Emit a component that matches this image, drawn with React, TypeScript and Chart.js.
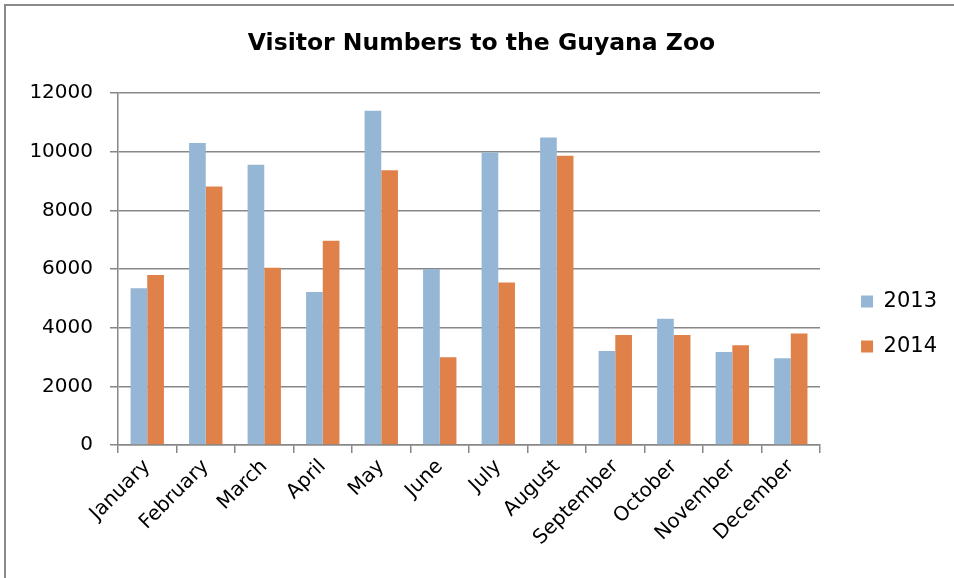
import React, { useEffect, useRef } from "react";
import { Chart, registerables } from "chart.js";

Chart.register(...registerables);

const months = [
  "January", "February", "March", "April", "May", "June",
  "July", "August", "September", "October", "November", "December",
];
const visitors2013 = [5350, 10300, 9560, 5220, 11400, 6000, 9980, 10490, 3210, 4310, 3170, 2960];
const visitors2014 = [5800, 8820, 6050, 6970, 9370, 2990, 5540, 9870, 3750, 3750, 3400, 3800];
const yTicks = [0, 2000, 4000, 6000, 8000, 10000, 12000];
const titleText = "Visitor Numbers to the Guyana Zoo";

const FONT = "'DejaVu Sans', sans-serif";
const GRID = "#878787";

export default function App() {
  const ref = useRef<HTMLCanvasElement | null>(null);

  useEffect(() => {
    if (!ref.current) return;
    const chart = new Chart(ref.current, {
      type: "bar",
      data: {
        labels: months,
        datasets: [
          { label: "2013", data: visitors2013, backgroundColor: "#95B6D4", borderWidth: 0 },
          { label: "2014", data: visitors2014, backgroundColor: "#DF8149", borderWidth: 0 },
        ],
      },
      options: {
        animation: false,
        responsive: true,
        maintainAspectRatio: false,
        layout: { padding: { left: 16, right: 7, top: 0, bottom: 0 } },
        datasets: { bar: { categoryPercentage: 0.57, barPercentage: 1 } },
        plugins: {
          tooltip: { enabled: false },
          title: {
            display: true,
            text: titleText,
            color: "#000",
            font: { family: FONT, size: 23.5, weight: "bold", lineHeight: 1.2 },
            padding: { top: 30, bottom: 35 },
          },
          legend: {
            position: "right",
            align: "center",
            title: {
              display: true,
              text: " ",
              font: { family: FONT, size: 10, lineHeight: 1 },
              padding: { top: 60, bottom: 0 },
            },
            labels: {
              boxWidth: 12,
              boxHeight: 12,
              padding: 24,
              color: "#000",
              font: { family: FONT, size: 21 },
            },
          },
        },
        scales: {
          x: {
            grid: { display: true, drawOnChartArea: false, drawTicks: true, tickLength: 8, color: GRID, lineWidth: 1.5, offset: true },
            border: { display: true, color: GRID, width: 1.5 },
            ticks: {
              color: "#000",
              font: { family: FONT, size: 20 },
              maxRotation: 45,
              minRotation: 45,
              padding: 2,
              autoSkip: false,
            },
            afterFit: (s: any) => { s.height = 133; },
          },
          y: {
            min: 0,
            max: 12000,
            afterBuildTicks: (s: any) => { s.ticks = yTicks.map((v) => ({ value: v })); },
            grid: { color: GRID, lineWidth: 1.5, tickLength: 8 },
            border: { display: true, color: GRID, width: 1.5 },
            ticks: {
              color: "#000",
              font: { family: FONT, size: 20 },
              padding: 17,
              callback: (v: any) => String(v),
            },
            afterFit: (s: any) => { s.width = 102; },
          },
          y2: {
            position: "right",
            display: true,
            grid: { display: false },
            border: { display: false },
            ticks: { display: false },
            afterFit: (s: any) => { s.width = 17; },
          },
        },
      },
    });
    return () => chart.destroy();
  }, []);

  return (
    <div style={{ position: "absolute", left: 0, top: 0, width: 954, height: 578, background: "#fff" }}>
      <div
        style={{
          position: "absolute", left: 4, top: 4, right: -10, bottom: -10,
          borderLeft: "2px solid #8a8a8a", borderTop: "2px solid #8a8a8a",
        }}
      />
      <div style={{ position: "absolute", left: 0, top: 0, width: 954, height: 578 }}>
        <canvas ref={ref} />
      </div>
    </div>
  );
}
